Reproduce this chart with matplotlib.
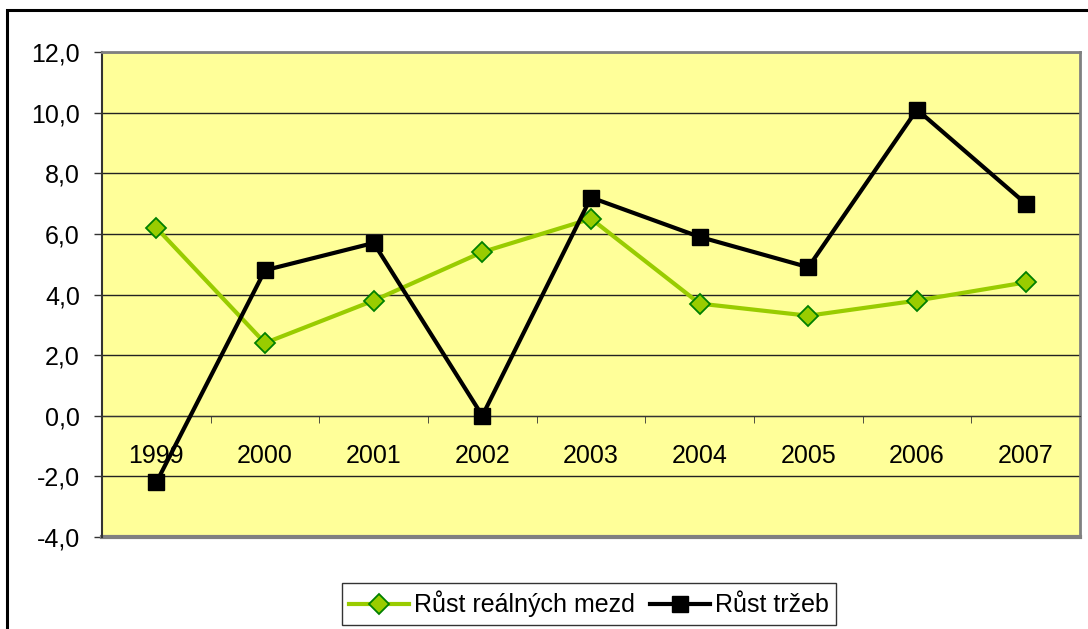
import numpy as np
import matplotlib
matplotlib.use('Agg')
import matplotlib.pyplot as plt
from matplotlib.patches import Rectangle

years = ['1999', '2000', '2001', '2002', '2003', '2004', '2005', '2006', '2007']
mzdy = [6.2, 2.4, 3.8, 5.4, 6.5, 3.7, 3.3, 3.8, 4.4]
trzby = [-2.2, 4.8, 5.7, 0.0, 7.2, 5.9, 4.9, 10.1, 7.0]
yticks = [-4, -2, 0, 2, 4, 6, 8, 10, 12]

plt.rcParams['font.family'] = ['Liberation Sans', 'DejaVu Sans']

fig = plt.figure(figsize=(10.88, 6.29), dpi=100)
# outer chart frame (cut off at right and bottom like the original)
fig.patches.append(Rectangle((7/1088, -0.05), 1.2, 1 - 10/629 + 0.05, transform=fig.transFigure,
                             fill=False, edgecolor='black', linewidth=2.2, zorder=0))

ax = fig.add_axes([102/1088, 1 - 537/629, (1080 - 102)/1088, (537 - 52)/629])
ax.set_facecolor('#FFFF99')
x = np.arange(len(years))

ax.set_ylim(-4, 12)
ax.set_xlim(-0.5, len(years) - 0.5)
ax.set_yticks(yticks)
ax.set_yticklabels([f'{v:.1f}'.replace('.', ',') for v in yticks], fontsize=18)
ax.yaxis.grid(True, color='#222222', linewidth=1)
ax.set_axisbelow(True)
ax.tick_params(axis='y', length=6, width=1, pad=10, color='#333333')

ax.spines['bottom'].set_position(('data', 0))
ax.spines['bottom'].set_color('#333333')
ax.spines['left'].set_color('#333333')
ax.spines['left'].set_linewidth(1.5)
for s in ['top', 'right']:
    ax.spines[s].set_color('#808080')
    ax.spines[s].set_linewidth(2)
ax.axhline(-4, color='#808080', linewidth=3, clip_on=False)

ax.set_xticks(x)
ax.set_xticklabels(years, fontsize=18)
ax.set_xticks(x[:-1] + 0.5, minor=True)
ax.tick_params(axis='x', which='major', length=0, pad=20)
ax.tick_params(axis='x', which='minor', length=5, direction='out', color='#333333')

ax.plot(x, mzdy, color='#99CC00', linewidth=3, marker='D', markersize=10,
        markerfacecolor='#99CC00', markeredgecolor='#008000', markeredgewidth=1.3,
        label='Růst reálných mezd', zorder=3)
ax.plot(x, trzby, color='black', linewidth=3, marker='s', markersize=11,
        label='Růst tržeb', zorder=4)

leg = fig.legend(loc='center', bbox_to_anchor=(589/1088, 1 - 604/629), ncol=2, fontsize=18,
                 frameon=True, fancybox=False, edgecolor='black', handlelength=2.4,
                 handletextpad=0.2, columnspacing=0.6, borderpad=0.3)
leg.get_frame().set_linewidth(1)

fig.savefig('out.png', dpi=100)
plt.close()
